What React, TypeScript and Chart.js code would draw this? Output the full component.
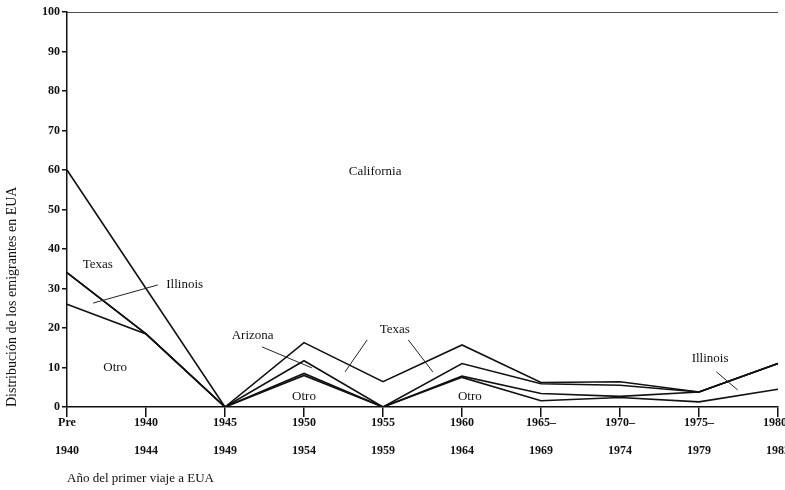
import React, { useEffect, useRef } from "react";
import { Chart, registerables } from "chart.js";

Chart.register(...registerables);

const categories: string[][] = [
  ["Pre", "1940"],
  ["1940", "1944"],
  ["1945", "1949"],
  ["1950", "1954"],
  ["1955", "1959"],
  ["1960", "1964"],
  ["1965–", "1969"],
  ["1970–", "1974"],
  ["1975–", "1979"],
  ["1980–", "1982"],
];

// Shares (percent) per region, stacked bottom to top
const otro = [26, 18.5, 0, 8, 0, 7.5, 1.6, 2.4, 1.3, 4.5];
const illinois = [8, 0, 0, 0.5, 0, 0.3, 1.8, 0.3, 2.5, 6.5];
const arizona = [0, 0, 0, 3.2, 0, 3.2, 2.5, 2.8, 0, 0];
const texas = [26, 11.5, 0, 4.6, 6.4, 4.7, 0.3, 0.9, 0, 0];
const california = [40, 70, 100, 83.7, 93.6, 84.3, 93.8, 93.6, 96.2, 89];

const yTicks = [0, 10, 20, 30, 40, 50, 60, 70, 80, 90, 100];

const yTitle = "Distribución de los emigrantes en EUA";
const xTitle = "Año del primer viaje a EUA";

// Region labels placed in data space: [text, category index, value]
const regionLabels: [string, number, number][] = [
  ["California", 3.9, 59.5],
  ["Texas", 0.39, 36],
  ["Illinois", 1.49, 31],
  ["Otro", 0.61, 10],
  ["Arizona", 2.35, 18],
  ["Texas", 4.15, 19.7],
  ["Otro", 3.0, 2.6],
  ["Otro", 5.1, 2.6],
  ["Illinois", 8.14, 12.2],
];

// Pointer lines in data space: [idx1, val1, idx2, val2]
const pointers: [number, number, number, number][] = [
  [0.33, 26.3, 1.15, 30.9],
  [2.47, 15.2, 3.1, 9.9],
  [3.8, 17, 3.52, 8.9],
  [4.32, 17, 4.63, 8.9],
  [8.22, 8.9, 8.49, 4.3],
];

const SERIF = "'Liberation Serif', 'DejaVu Serif', serif";

const annotationPlugin = {
  id: "regionAnnotations",
  afterDatasetsDraw(chart: any) {
    const { ctx, scales } = chart;
    const xs = scales.x;
    const ys = scales.y;
    ctx.save();
    ctx.strokeStyle = "#222";
    ctx.lineWidth = 1;
    pointers.forEach(([i1, v1, i2, v2]) => {
      ctx.beginPath();
      ctx.moveTo(xs.getPixelForValue(i1), ys.getPixelForValue(v1));
      ctx.lineTo(xs.getPixelForValue(i2), ys.getPixelForValue(v2));
      ctx.stroke();
    });
    ctx.fillStyle = "#111";
    ctx.font = `13px ${SERIF}`;
    ctx.textAlign = "center";
    ctx.textBaseline = "middle";
    regionLabels.forEach(([t, i, v]) => {
      ctx.fillText(t, xs.getPixelForValue(i), ys.getPixelForValue(v));
    });
    ctx.restore();
  },
};

export default function App() {
  const ref = useRef<HTMLCanvasElement | null>(null);

  useEffect(() => {
    if (!ref.current) return;
    const mk = (label: string, data: number[]) => ({
      label,
      data,
      borderColor: "#111",
      borderWidth: 1.6,
      pointRadius: 0,
      tension: 0,
      fill: false,
    });
    const chart = new Chart(ref.current, {
      type: "line",
      data: {
        labels: categories,
        datasets: [
          mk("Otro", otro),
          mk("Illinois", illinois),
          mk("Arizona", arizona),
          mk("Texas", texas),
          mk("California", california),
        ],
      },
      options: {
        animation: false,
        responsive: false,
        layout: { padding: { top: 12, right: 7, left: 0, bottom: 0 } },
        plugins: {
          legend: { display: false },
          tooltip: { enabled: false },
        },
        scales: {
          x: {
            offset: false,
            grid: {
              drawOnChartArea: false,
              tickLength: 10,
              color: "#111",
              lineWidth: 1.5,
            },
            border: { display: true, color: "#111", width: 1.5 },
            ticks: {
              color: "#111",
              maxRotation: 0,
              autoSkip: false,
              padding: -8,
              font: { family: SERIF, size: 12, weight: "bold", lineHeight: 2.35 },
            },
            title: {
              display: true,
              text: xTitle,
              align: "start",
              color: "#111",
              padding: { top: 0, bottom: 4 },
              font: { family: SERIF, size: 13 },
            },
            afterFit: (scale: any) => {
              scale.height = 83;
              scale.paddingLeft = 0;
              scale.paddingRight = 0;
            },
          },
          y: {
            stacked: true,
            min: 0,
            max: 100,
            afterBuildTicks: (scale: any) => {
              scale.ticks = yTicks.map((v) => ({ value: v }));
            },
            grid: {
              drawOnChartArea: false,
              tickLength: 5,
              color: "#111",
              lineWidth: 1.5,
            },
            border: { display: true, color: "#111", width: 1.5 },
            ticks: {
              color: "#111",
              padding: 2,
              font: { family: SERIF, size: 12, weight: "bold" },
            },
            title: {
              display: true,
              text: yTitle,
              align: "start",
              color: "#111",
              padding: { top: 4, bottom: 0 },
              font: { family: SERIF, size: 14 },
            },
            afterFit: (scale: any) => {
              scale.width = 67;
            },
          },
        },
      },
      plugins: [annotationPlugin],
    } as any);
    return () => chart.destroy();
  }, []);

  return (
    <div style={{ position: "absolute", left: 0, top: 0, width: 785, height: 490, background: "#fff" }}>
      <canvas ref={ref} width={785} height={490} style={{ display: "block" }} />
    </div>
  );
}
